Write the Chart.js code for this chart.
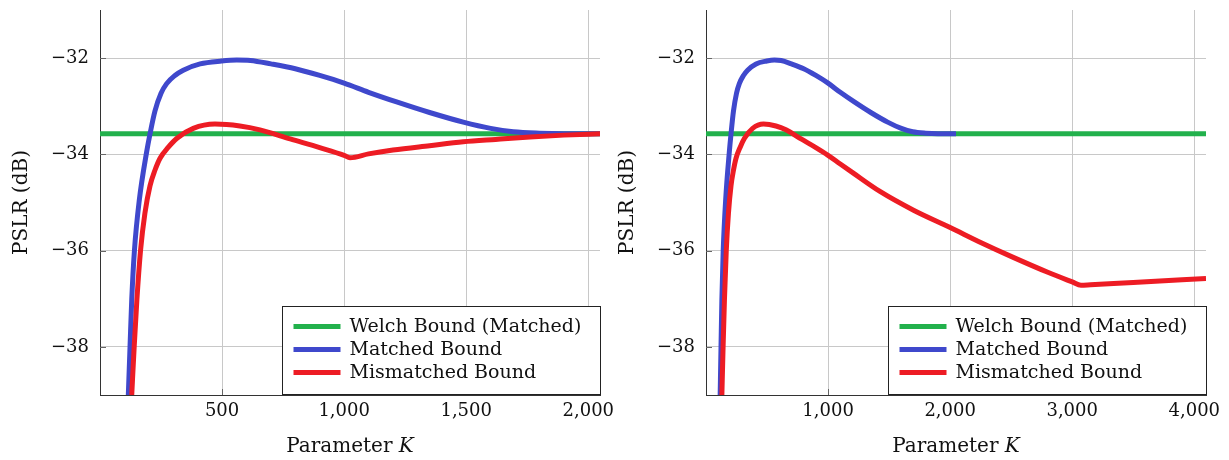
<!DOCTYPE html>
<html>
<head>
<meta charset="utf-8">
<script src="https://cdn.jsdelivr.net/npm/chart.js@4.4.1/dist/chart.umd.min.js"></script>
<style>
  body { margin: 0; background: #fff; }
  .wrap { position: absolute; top: 0; width: 614px; height: 460px; }
</style>
</head>
<body>
<div class="wrap" style="left:0"><canvas id="leftChart" width="614" height="460"></canvas></div>
<div class="wrap" style="left:606px"><canvas id="rightChart" width="614" height="460"></canvas></div>
<script>
// values
const pslrTicks = [-38, -36, -34, -32];
const kTicksLeft = [500, 1000, 1500, 2000];
const kTicksRight = [1000, 2000, 3000, 4000];

const welchLeftK = [0, 2048];
const welchLeftPslr = [-33.57, -33.57];
const welchRightK = [0, 4096];
const welchRightPslr = [-33.57, -33.57];

const matchedK = [116, 123, 130, 141, 161, 191, 205, 225, 250, 273, 307, 341, 410, 498, 560, 616, 700, 800, 900, 1000, 1100, 1215, 1350, 1488, 1600, 1693, 1800, 1898, 2048];
const matchedPslr = [-39, -38, -37.02, -36, -34.95, -33.95, -33.57, -33.10, -32.73, -32.53, -32.36, -32.25, -32.12, -32.06, -32.04, -32.05, -32.12, -32.22, -32.36, -32.52, -32.71, -32.91, -33.13, -33.33, -33.46, -33.53, -33.56, -33.57, -33.57];

const mismatchedLeftK = [130, 140, 151, 166, 184, 205, 225, 246, 280, 314, 382, 471, 573, 655, 779, 900, 1000, 1024, 1100, 1200, 1350, 1488, 1620, 1761, 1900, 2048];
const mismatchedLeftPslr = [-39, -38, -37.03, -36, -35.22, -34.65, -34.33, -34.08, -33.85, -33.67, -33.46, -33.37, -33.41, -33.49, -33.68, -33.86, -34.02, -34.07, -33.99, -33.91, -33.82, -33.74, -33.69, -33.64, -33.6, -33.57];

const mismatchedRightK = [130, 140, 151, 166, 184, 205, 225, 246, 280, 314, 382, 471, 573, 655, 779, 900, 1000, 1100, 1207, 1425, 1700, 2000, 2250, 2517, 2800, 3000, 3072, 3150, 3500, 4096];
const mismatchedRightPslr = [-39, -38, -37.03, -36, -35.22, -34.65, -34.33, -34.08, -33.85, -33.67, -33.46, -33.37, -33.41, -33.49, -33.68, -33.86, -34.02, -34.2, -34.39, -34.77, -35.16, -35.52, -35.83, -36.14, -36.45, -36.65, -36.72, -36.71, -36.66, -36.58];

const GREEN = '#22b14c';
const BLUE = '#3f48cc';
const RED = '#ed1c24';
const FONT = '"DejaVu Serif", serif';

function series(ks, vals) {
    return ks.map((k, i) => ({ x: k, y: vals[i] }));
}

function lineSet(label, ks, vals, color, order, smooth) {
    return {
        label: label,
        data: series(ks, vals),
        borderColor: color,
        backgroundColor: color,
        borderWidth: 5,
        pointRadius: 0,
        fill: false,
        tension: 0,
        cubicInterpolationMode: smooth ? 'monotone' : 'default',
        order: order,
        clip: 0
    };
}

const decorPlugin = {
    id: 'decor',
    afterDraw(chart) {
        const ctx = chart.ctx;
        const area = chart.chartArea;
        const xs = chart.scales.x;
        const ys = chart.scales.y;
        ctx.save();

        // short inward tick marks
        ctx.strokeStyle = '#666';
        ctx.lineWidth = 1;
        ys.ticks.forEach(t => {
            const py = Math.round(ys.getPixelForValue(t.value)) + 0.5;
            ctx.beginPath();
            ctx.moveTo(area.left, py);
            ctx.lineTo(area.left + 6, py);
            ctx.stroke();
        });
        xs.ticks.forEach(t => {
            const px = Math.round(xs.getPixelForValue(t.value)) + 0.5;
            ctx.beginPath();
            ctx.moveTo(px, area.bottom);
            ctx.lineTo(px, area.bottom - 6);
            ctx.stroke();
        });

        // legend box, bottom right inside the plot
        const boxW = 318, boxH = 89;
        const bx = Math.round(area.right - boxW) + 0.5;
        const by = Math.round(area.bottom - boxH) + 0.5;
        ctx.fillStyle = '#fff';
        ctx.fillRect(bx, by, boxW, boxH - 1);
        ctx.strokeStyle = '#222';
        ctx.lineWidth = 1;
        ctx.strokeRect(bx, by, boxW, boxH - 1);
        ctx.font = '19px ' + FONT;
        ctx.textBaseline = 'middle';
        ctx.textAlign = 'left';
        chart.data.datasets.forEach((ds, i) => {
            const rowY = by + 20 + i * 23;
            ctx.strokeStyle = ds.borderColor;
            ctx.lineWidth = 5;
            ctx.beginPath();
            ctx.moveTo(bx + 11, rowY);
            ctx.lineTo(bx + 58, rowY);
            ctx.stroke();
            ctx.fillStyle = '#111';
            ctx.fillText(ds.label, bx + 67, rowY + 1);
        });

        // axis titles
        ctx.fillStyle = '#111';
        const part1 = 'Parameter ';
        const part2 = 'K';
        ctx.font = '20px ' + FONT;
        const w1 = ctx.measureText(part1).width;
        ctx.font = 'italic 20px ' + FONT;
        const w2 = ctx.measureText(part2).width;
        const startX = (area.left + area.right) / 2 - (w1 + w2) / 2;
        ctx.font = '20px ' + FONT;
        ctx.fillText(part1, startX, 447);
        ctx.font = 'italic 20px ' + FONT;
        ctx.fillText(part2, startX + w1, 447);

        ctx.font = '20px ' + FONT;
        ctx.translate(22, (area.top + area.bottom) / 2);
        ctx.rotate(-Math.PI / 2);
        ctx.textAlign = 'center';
        ctx.fillText('PSLR (dB)', 0, 0);
        ctx.restore();
    }
};

function makeChart(canvasId, kMax, kTicks, datasets) {
    const ctx = document.getElementById(canvasId).getContext('2d');
    const config = {
        type: 'line',
        data: { datasets: datasets },
        options: {
            responsive: false,
            animation: false,
            devicePixelRatio: 1,
            layout: { padding: { top: 10, right: 14, left: 0, bottom: 0 } },
            plugins: {
                legend: { display: false },
                tooltip: { enabled: false }
            },
            scales: {
                x: {
                    type: 'linear',
                    min: 0,
                    max: kMax,
                    afterBuildTicks: scale => { scale.ticks = kTicks.map(v => ({ value: v })); },
                    afterFit: scale => {
                        scale.height = 65;
                        scale.paddingLeft = 0;
                        scale.paddingRight = 0;
                    },
                    grid: { color: '#c8c8c8', lineWidth: 1, drawTicks: false },
                    border: { display: true, color: '#333', width: 1 },
                    ticks: {
                        padding: 6,
                        color: '#111',
                        font: { family: FONT, size: 18 },
                        maxRotation: 0,
                        callback: v => v.toLocaleString('en-US')
                    }
                },
                y: {
                    min: -39,
                    max: -31,
                    afterBuildTicks: scale => { scale.ticks = pslrTicks.map(v => ({ value: v })); },
                    afterFit: scale => {
                        scale.width = 100;
                        scale.paddingTop = 0;
                        scale.paddingBottom = 0;
                    },
                    grid: { color: '#c8c8c8', lineWidth: 1, drawTicks: false },
                    border: { display: true, color: '#333', width: 1 },
                    ticks: {
                        padding: 11,
                        color: '#111',
                        font: { family: FONT, size: 18 },
                        callback: v => '\u2212' + Math.abs(v)
                    }
                }
            }
        },
        plugins: [decorPlugin]
    };
    return new Chart(ctx, config);
}

makeChart('leftChart', 2048, kTicksLeft, [
    lineSet('Welch Bound (Matched)', welchLeftK, welchLeftPslr, GREEN, 3, false),
    lineSet('Matched Bound', matchedK, matchedPslr, BLUE, 2, true),
    lineSet('Mismatched Bound', mismatchedLeftK, mismatchedLeftPslr, RED, 1, true)
]);

makeChart('rightChart', 4096, kTicksRight, [
    lineSet('Welch Bound (Matched)', welchRightK, welchRightPslr, GREEN, 3, false),
    lineSet('Matched Bound', matchedK, matchedPslr, BLUE, 2, true),
    lineSet('Mismatched Bound', mismatchedRightK, mismatchedRightPslr, RED, 1, true)
]);
</script>
</body>
</html>
